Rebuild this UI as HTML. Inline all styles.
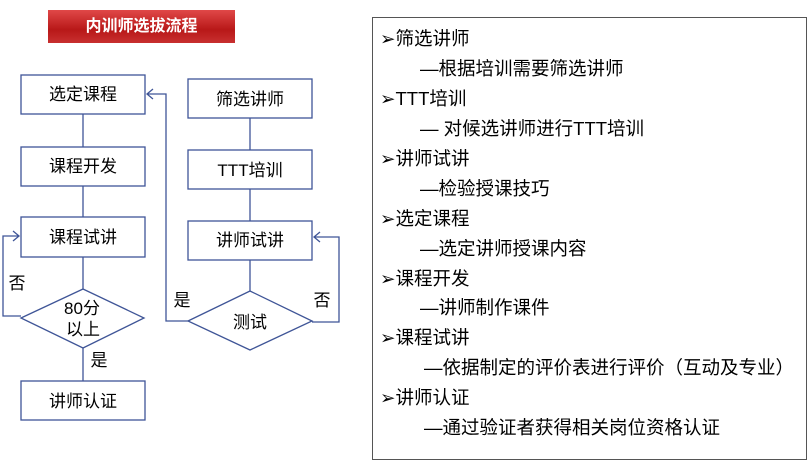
<!DOCTYPE html>
<html><head><meta charset="utf-8"><style>
body{margin:0;width:811px;height:466px;background:#fff;position:relative;font-family:"Liberation Sans","Noto Sans CJK SC",sans-serif;overflow:hidden}
.t{position:absolute;left:48px;top:10px;width:187px;height:33px;background:linear-gradient(#e04848,#b81818 60%,#c83030);color:#fff;font-weight:bold;font-size:16px;text-align:center;line-height:33px}
.p{position:absolute;left:372px;top:17px;width:435px;height:443px;border:1px solid #555;box-sizing:border-box}
.l{position:absolute;font-size:18.5px;line-height:20px;color:#000;white-space:nowrap}
</style></head><body>
<div class="t">内训师选拔流程</div>
<svg width="370" height="466" style="position:absolute;left:0;top:0" font-family="Liberation Sans,Noto Sans CJK SC,sans-serif" font-size="17">
<g fill="none" stroke="#3f5597" stroke-width="1.3">
<rect x="21" y="75" width="124" height="39"/>
<rect x="21" y="147" width="124" height="39"/>
<rect x="21" y="217" width="124" height="40"/>
<rect x="21" y="381" width="124" height="39"/>
<rect x="188" y="79" width="124" height="39"/>
<rect x="188" y="150" width="124" height="39"/>
<rect x="188" y="221" width="124" height="39"/>
<polygon points="21,318 83,289 144,318 83,348"/>
<polygon points="188,321 250,291 312,321 250,350"/>
<path d="M83 114V147M83 186V217M83 257V289M83 348V381M250 118V150M250 189V221M250 260V291"/>
<path d="M21 316H3V236H19M13 231L19 236L13 241"/>
<path d="M188 321H166V94H147M153 89L147 94L153 99"/>
<path d="M312 322H339V237H314M320 232L314 237L320 242"/>
</g>
<g fill="#000" text-anchor="middle">
<text x="83" y="100">选定课程</text>
<text x="83" y="172">课程开发</text>
<text x="83" y="243">课程试讲</text>
<text x="83" y="407">讲师认证</text>
<text x="250" y="105">筛选讲师</text>
<text x="250" y="176">TTT培训</text>
<text x="250" y="246">讲师试讲</text>
<text x="82" y="314">80分</text>
<text x="83" y="335">以上</text>
<text x="250" y="328">测试</text>
<text x="17" y="289">否</text>
<text x="99" y="366">是</text>
<text x="182" y="306">是</text>
<text x="322" y="306">否</text>
</g>
</svg>
<div class="p"></div>
<div class="l" style="left:380px;top:29px">➢筛选讲师</div>
<div class="l" style="left:420px;top:59px">—根据培训需要筛选讲师</div>
<div class="l" style="left:380px;top:89px">➢TTT培训</div>
<div class="l" style="left:420px;top:119px">— 对候选讲师进行TTT培训</div>
<div class="l" style="left:380px;top:149px">➢讲师试讲</div>
<div class="l" style="left:420px;top:179px">—检验授课技巧</div>
<div class="l" style="left:380px;top:209px">➢选定课程</div>
<div class="l" style="left:420px;top:239px">—选定讲师授课内容</div>
<div class="l" style="left:380px;top:269px">➢课程开发</div>
<div class="l" style="left:420px;top:298px">—讲师制作课件</div>
<div class="l" style="left:380px;top:328px">➢课程试讲</div>
<div class="l" style="left:424px;top:358px">—依据制定的评价表进行评价（互动及专业）</div>
<div class="l" style="left:380px;top:388px">➢讲师认证</div>
<div class="l" style="left:424px;top:418px">—通过验证者获得相关岗位资格认证</div>
</body></html>
